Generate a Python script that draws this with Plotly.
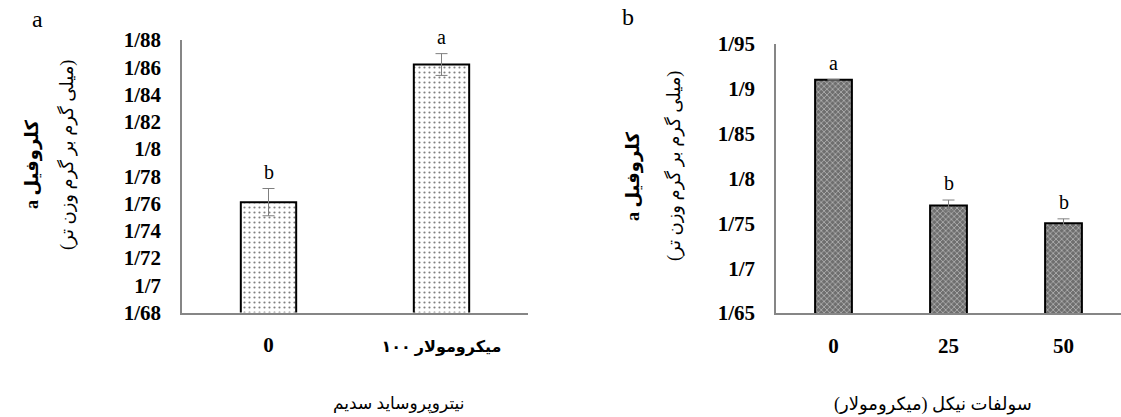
import plotly.graph_objects as go

# ---- data ----
cats_a = ["0", "میکرومولار ۱۰۰"]
vals_a = [1.761, 1.862]
errs_a = [0.010, 0.008]
sig_a = ["b", "a"]
ticks_a = [1.68, 1.70, 1.72, 1.74, 1.76, 1.78, 1.80, 1.82, 1.84, 1.86, 1.88]
ticklabels_a = ["1/68", "1/7", "1/72", "1/74", "1/76", "1/78", "1/8", "1/82", "1/84", "1/86", "1/88"]

cats_b = ["0", "25", "50"]
vals_b = [1.910, 1.770, 1.750]
errs_b = [float("nan"), 0.006, 0.005]
sig_b = ["a", "b", "b"]
ticks_b = [1.65, 1.70, 1.75, 1.80, 1.85, 1.90, 1.95]
ticklabels_b = ["1/65", "1/7", "1/75", "1/8", "1/85", "1/9", "1/95"]

xtitle_a = "نیتروپروساید سدیم"
xtitle_b = "سولفات نیکل (میکرومولار)"
ytitle1 = "<b>a کلروفیل</b>"
ytitle2 = "(میلی گرم بر گرم وزن تر)"

W, H = 1121, 417
SERIF = "Liberation Serif, DejaVu Sans"
PERS = "Liberation Serif, DejaVu Sans"

fig = go.Figure()
fig.add_trace(go.Bar(
    x=cats_a, y=vals_a, xaxis="x", yaxis="y",
    marker=dict(color="white", line=dict(color="black", width=2),
                pattern=dict(shape=".", fgcolor="black", bgcolor="white", size=5, solidity=0.15)),
    error_y=dict(type="data", array=errs_a, color="#7f7f7f", thickness=1, width=6),
    showlegend=False, hoverinfo="skip"))
fig.add_trace(go.Bar(
    x=cats_b, y=vals_b, xaxis="x2", yaxis="y2",
    marker=dict(color="#808080", line=dict(color="black", width=2),
                pattern=dict(shape="x", fgcolor="white", bgcolor="#6e6e6e", size=4, solidity=0.35)),
    error_y=dict(type="data", array=errs_b, color="#7f7f7f", thickness=1, width=6),
    showlegend=False, hoverinfo="skip"))


def px_x(p):
    return p / W


def px_y(p):
    return 1 - p / H


tickfont = dict(family=SERIF, size=21, color="black", weight="bold")
axis_common = dict(showgrid=False, zeroline=False, showline=True, linecolor="#868686", linewidth=1.5,
                   ticks="", tickfont=tickfont, automargin=False)

xt_a = [c if c.isascii() else f"<span style='font-size:16px'>{c}</span>" for c in cats_a]

fig.update_layout(
    width=W, height=H, margin=dict(l=0, r=0, t=0, b=0, autoexpand=False),
    paper_bgcolor="white", plot_bgcolor="white", bargap=0.68,
    xaxis=dict(domain=[px_x(182), px_x(528)], anchor="y", type="category",
               tickvals=list(range(len(cats_a))), ticktext=xt_a,
               ticklabelstandoff=13, **axis_common),
    yaxis=dict(domain=[px_y(312.5), px_y(40)], anchor="x", range=[1.68, 1.88],
               tickvals=ticks_a, ticktext=ticklabels_a,
               ticklabelstandoff=15, **axis_common),
    xaxis2=dict(domain=[px_x(776), 1.0], anchor="y2", type="category",
                ticklabelstandoff=13, **axis_common),
    yaxis2=dict(domain=[px_y(313), px_y(44)], anchor="x2", range=[1.65, 1.95],
                tickvals=ticks_b, ticktext=ticklabels_b,
                ticklabelstandoff=15, **axis_common),
)

ann = []
for i, (v, e, s) in enumerate(zip(vals_a, errs_a, sig_a)):
    top = v + (e if e == e else 0)
    ann.append(dict(x=i, y=top, xref="x", yref="y", text=s, showarrow=False, yanchor="bottom",
                    xanchor="center", yshift=4, font=dict(family=SERIF, size=20, color="black")))
for i, (v, e, s) in enumerate(zip(vals_b, errs_b, sig_b)):
    top = v + (e if e == e else 0)
    ann.append(dict(x=i, y=top, xref="x2", yref="y2", text=s, showarrow=False, yanchor="bottom",
                    xanchor="center", yshift=4, font=dict(family=SERIF, size=20, color="black")))


def paper_text(x, y, text, size, angle=0):
    return dict(x=px_x(x), y=px_y(y), xref="paper", yref="paper", text=text, showarrow=False,
                xanchor="center", yanchor="middle", textangle=angle,
                font=dict(family=PERS, size=size, color="black"))


# panel letters
ann.append(paper_text(37, 19, "a", 24))
ann.append(paper_text(628, 17, "b", 24))

# y titles
for (x1, y1, x2, y2) in [(32, 165, 67, 155), (633, 177, 674, 166)]:
    ann.append(paper_text(x1, y1, ytitle1, 18, -90))
    ann.append(paper_text(x2, y2, ytitle2, 18, -90))

# x titles
ann.append(paper_text(398, 404, xtitle_a, 17))
ann.append(paper_text(933, 404, xtitle_b, 18))

fig.update_layout(annotations=ann)
fig.write_html("out.html", config={"displayModeBar": False},
               post_script="document.body.style.margin='0px';")
